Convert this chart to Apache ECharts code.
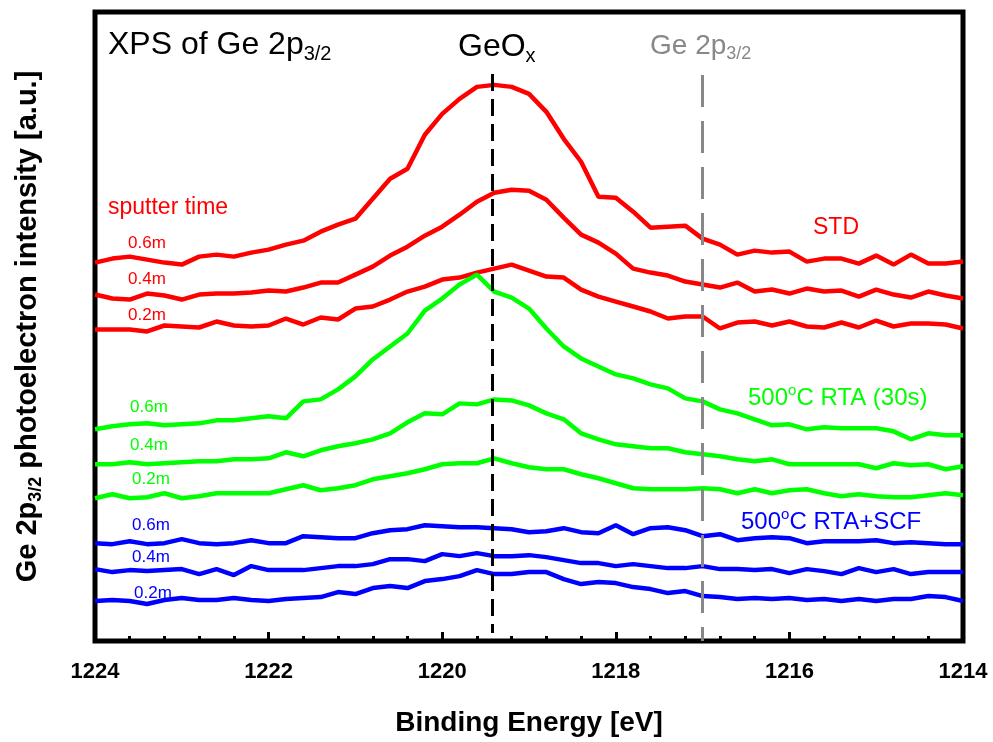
<!DOCTYPE html>
<html>
<head>
<meta charset="utf-8">
<script src="https://cdn.jsdelivr.net/npm/echarts@6/dist/echarts.min.js"></script>
<style>
  html, body { margin: 0; padding: 0; background: #fff; }
  #chart { width: 993px; height: 742px; }
</style>
</head>
<body>
<div id="chart"></div>
<script>
// binding energy grid, 1224 -> 1214 eV in 0.2 eV steps
const energies = [];
for (let k = 0; k <= 50; k++) energies.push(+(1224 - 0.2 * k).toFixed(1));

const xTicks = [1224, 1222, 1220, 1218, 1216, 1214];

// intensities (a.u., stacked offsets as in the figure)
const std06 = [379,383,385,382,379,377,385,387,385,389,392,397,401,410,417,423,443,463,473,507,528,543,555,557,555,548,530,503,480,445,444,430,414,415,416,403,397,387,391,389,390,380,383,383,378,386,377,387,378,378,380];
const std04 = [347,343,342,348,346,342,347,348,348,349,351,350,354,359,359,367,375,386,395,406,415,427,440,449,452,451,442,424,407,399,388,373,369,366,360,357,354,359,350,352,348,353,350,351,345,352,347,344,350,346,343];
const std02 = [312,312,312,310,316,315,314,320,316,315,316,323,317,324,322,333,335,342,350,355,362,364,369,373,377,371,365,364,352,345,340,335,330,323,325,325,313,319,320,316,320,315,314,319,314,321,315,318,318,317,313];

const rta06 = [212,215,217,218,216,217,218,221,221,223,225,223,240,242,252,265,282,295,308,331,343,357,367,350,344,333,313,295,283,275,267,263,257,253,243,240,232,228,222,216,217,212,214,213,213,213,210,202,208,206,206];
const rta04 = [177,177,179,177,178,179,180,180,182,182,183,189,185,191,195,198,202,208,219,228,227,238,237,242,241,236,228,222,208,202,197,195,193,193,189,187,185,182,180,182,177,177,177,177,177,173,178,176,177,172,175];
const rta02 = [143,147,143,144,148,143,145,148,148,148,148,152,156,151,153,156,162,165,168,172,177,178,178,183,178,174,172,172,167,163,158,153,152,152,152,153,152,148,152,148,151,152,148,145,147,145,144,144,146,148,146];

const scf06 = [98,97,100,97,98,102,98,97,98,101,98,98,105,104,103,103,108,111,112,116,115,114,114,113,112,109,110,113,109,108,116,107,113,114,111,105,107,101,103,104,103,98,100,100,100,101,98,99,98,97,97];
const scf04 = [72,69,71,70,71,72,67,72,66,75,71,71,71,73,75,75,77,82,82,80,87,85,88,85,85,86,84,81,78,78,75,77,75,73,73,75,72,72,71,72,68,72,70,67,73,69,72,67,69,69,69];
const scf02 = [40,41,40,37,41,43,41,41,43,41,40,42,43,44,49,47,53,55,53,60,62,65,71,67,67,69,69,62,57,59,58,54,52,48,50,45,44,42,43,42,43,41,42,40,42,40,42,42,45,44,40];

// reference peak positions (eV)
const geoxPos = 1219.42;
const ge2pPos = 1217.0;

const FONT = '"Liberation Sans", Arial, sans-serif';
const RED = '#ff0000', GREEN = '#00ff00', BLUE = '#0000ff';

const chart = echarts.init(document.getElementById('chart'));

function line(name, vals, color, extra) {
  return Object.assign({
    name: name,
    type: 'line',
    data: vals.map((v, i) => [energies[i], v]),
    showSymbol: false,
    symbol: 'none',
    lineStyle: { color: color, width: 4.5 },
    itemStyle: { color: color },
    silent: true,
    animation: false
  }, extra || {});
}

// graphic text; rich parts use zrender naming (fill)
function txt(x, y, text, rich, fill) {
  return {
    type: 'text', x: x, y: y, silent: true,
    style: { text: text, rich: rich, fill: fill, verticalAlign: 'middle', font: '24px ' + FONT }
  };
}

const subRich = (size, subSize, fill) => ({
  m: { fontSize: size, lineHeight: Math.round(size * 1.2), fontFamily: FONT, fill: fill },
  s: { fontSize: subSize, lineHeight: 10, verticalAlign: 'bottom', fontFamily: FONT, fill: fill }
});
const supRich = (fill) => ({
  m: { fontSize: 24, lineHeight: 29, fontFamily: FONT, fill: fill },
  o: { fontSize: 15, lineHeight: 17, verticalAlign: 'top', fontFamily: FONT, fill: fill }
});
const plain = (size, fill) => ({ m: { fontSize: size, fontFamily: FONT, fill: fill } });

chart.setOption({
  backgroundColor: '#fff',
  animation: false,
  grid: {
    left: 95, right: 30, top: 12, bottom: 100,
    show: true, borderColor: '#000', borderWidth: 5
  },
  xAxis: {
    type: 'value',
    inverse: true,
    min: 1214, max: 1224, interval: 2,
    axisLine: { show: false },
    axisTick: { show: true, inside: true, length: 9, lineStyle: { color: '#000', width: 3 } },
    minorTick: { show: true, splitNumber: 5, length: 5, lineStyle: { color: '#000', width: 3 } },
    splitLine: { show: false },
    axisLabel: {
      margin: 20, color: '#000', fontSize: 22, fontWeight: 'bold', fontFamily: FONT,
      formatter: v => xTicks.includes(v) ? String(v) : ''
    },
    name: 'Binding Energy [eV]',
    nameLocation: 'middle',
    nameGap: 68,
    nameTextStyle: { color: '#000', fontSize: 28, fontWeight: 'bold', fontFamily: FONT }
  },
  yAxis: {
    type: 'value',
    min: 0, max: 630,
    axisLine: { show: false },
    axisTick: { show: false },
    axisLabel: { show: false },
    splitLine: { show: false },
    name: '{m|Ge 2p}{s|3/2}{m| photoelectron intensity [a.u.]}',
    nameLocation: 'middle',
    nameGap: 50,
    nameTextStyle: {
      rich: {
        m: { fontSize: 29, fontWeight: 'bold', lineHeight: 35, fontFamily: FONT, color: '#000' },
        s: { fontSize: 18, fontWeight: 'bold', lineHeight: 8, verticalAlign: 'bottom', fontFamily: FONT, color: '#000' }
      }
    }
  },
  series: [
    line('STD 0.6m', std06, RED, {
      markLine: {
        silent: true, symbol: 'none', animation: false,
        label: { show: false },
        data: [
          [{ coord: [geoxPos, 568], lineStyle: { color: '#000', width: 3, type: [17, 8] } },
           { coord: [geoxPos, 8] }],
          [{ coord: [ge2pPos, 567], lineStyle: { color: '#888', width: 3, type: [32, 14] } },
           { coord: [ge2pPos, 0] }]
        ]
      }
    }),
    line('STD 0.4m', std04, RED),
    line('STD 0.2m', std02, RED),
    line('RTA 0.6m', rta06, GREEN),
    line('RTA 0.4m', rta04, GREEN),
    line('RTA 0.2m', rta02, GREEN),
    line('SCF 0.6m', scf06, BLUE),
    line('SCF 0.4m', scf04, BLUE),
    line('SCF 0.2m', scf02, BLUE)
  ],
  graphic: [
    txt(108, 45, '{m|XPS of Ge 2p}{s|3/2}', subRich(32, 20, '#000')),
    txt(458, 47, '{m|GeO}{s|x}', subRich(32, 20, '#000')),
    txt(650, 46, '{m|Ge 2p}{s|3/2}', subRich(28, 18, '#888')),
    txt(108, 208, '{m|sputter time}', plain(23, RED)),
    txt(813, 228, '{m|STD}', plain(23, RED)),
    txt(128, 243, '{m|0.6m}', plain(17, RED)),
    txt(128, 279, '{m|0.4m}', plain(17, RED)),
    txt(128, 315, '{m|0.2m}', plain(17, RED)),
    txt(748, 398, '{m|500}{o|o}{m|C RTA (30s)}', supRich(GREEN)),
    txt(130, 407, '{m|0.6m}', plain(17, GREEN)),
    txt(130, 445, '{m|0.4m}', plain(17, GREEN)),
    txt(132, 479, '{m|0.2m}', plain(17, GREEN)),
    txt(741, 522, '{m|500}{o|o}{m|C RTA+SCF}', supRich(BLUE)),
    txt(132, 525, '{m|0.6m}', plain(17, BLUE)),
    txt(132, 557, '{m|0.4m}', plain(17, BLUE)),
    txt(134, 593, '{m|0.2m}', plain(17, BLUE))
  ]
});
</script>
</body>
</html>
